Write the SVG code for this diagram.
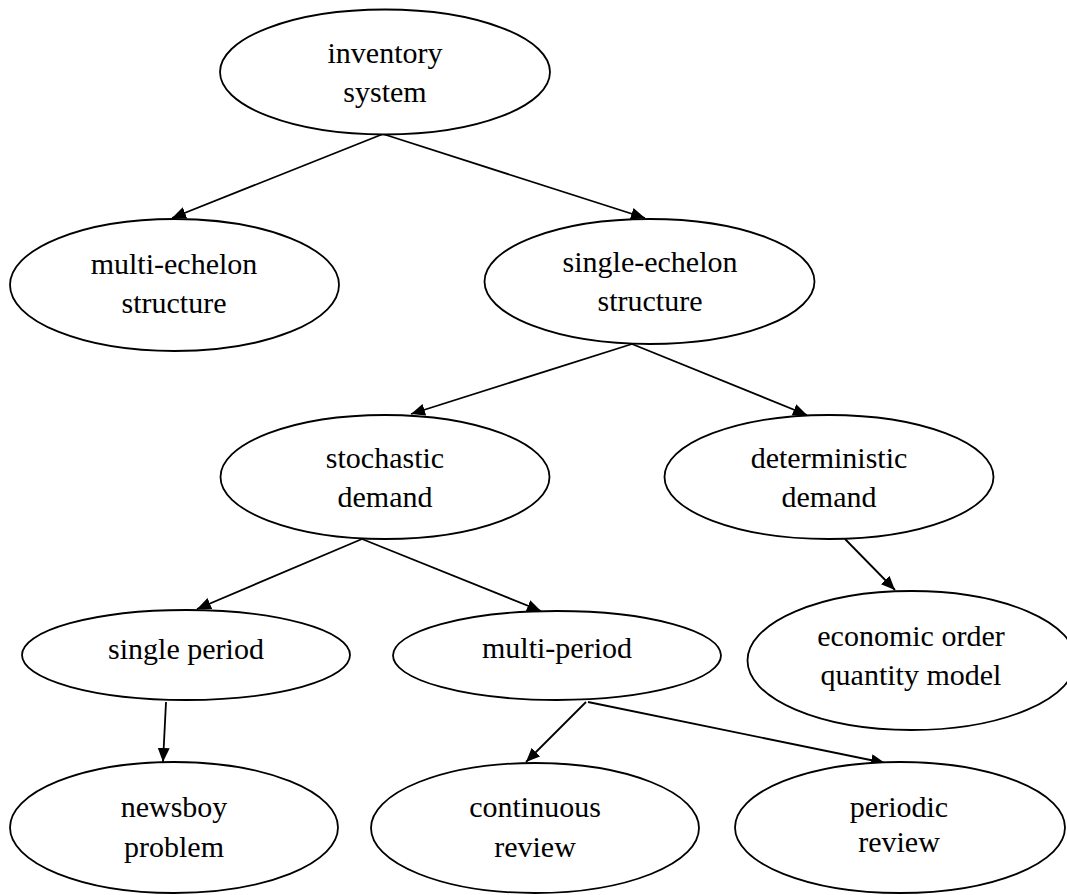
<svg xmlns="http://www.w3.org/2000/svg" width="1067" height="895" viewBox="0 0 1067 895">
  <style>
    .node ellipse { fill: #ffffff; stroke: #000000; stroke-width: 1.8; }
    .node text { font-family: "Liberation Serif", "Times New Roman", serif; font-size: 30px; fill: #000000; text-anchor: middle; }
    .edge { stroke: #000000; stroke-width: 1.8; fill: none; marker-end: url(#arrow); }
  </style>
  <defs>
    <marker id="arrow" markerUnits="userSpaceOnUse" markerWidth="15" markerHeight="13" refX="14" refY="6" orient="auto">
      <path d="M0,0 L14,6 L0,12 z" fill="#000000"/>
    </marker>
  </defs>
  <rect width="1067" height="895" fill="#ffffff"/>

  <!-- connectors -->
  <g id="edges">
    <line class="edge" x1="383" y1="134" x2="172" y2="218"/>
    <line class="edge" x1="383" y1="134" x2="645" y2="218"/>
    <line class="edge" x1="632" y1="344" x2="411" y2="414"/>
    <line class="edge" x1="632" y1="344" x2="807" y2="415"/>
    <line class="edge" x1="362" y1="539" x2="197" y2="609"/>
    <line class="edge" x1="362" y1="539" x2="541" y2="611"/>
    <line class="edge" x1="845" y1="539" x2="895" y2="590"/>
    <line class="edge" x1="166" y1="702" x2="163" y2="762"/>
    <line class="edge" x1="586" y1="702" x2="526" y2="762"/>
    <line class="edge" x1="588" y1="702" x2="885" y2="763"/>
  </g>

  <!-- nodes -->
  <g id="inventory-system" class="node">
    <ellipse cx="385" cy="72" rx="165" ry="62.5"/>
    <text x="385" y="63">inventory</text>
    <text x="385" y="102">system</text>
  </g>
  <g id="multi-echelon" class="node">
    <ellipse cx="174.5" cy="285" rx="164.5" ry="66"/>
    <text x="174" y="274">multi-echelon</text>
    <text x="174" y="313">structure</text>
  </g>
  <g id="single-echelon" class="node">
    <ellipse cx="649.5" cy="281.5" rx="165" ry="62.5"/>
    <text x="650" y="272">single-echelon</text>
    <text x="650" y="311">structure</text>
  </g>
  <g id="stochastic-demand" class="node">
    <ellipse cx="385" cy="477" rx="164.5" ry="62"/>
    <text x="385" y="468">stochastic</text>
    <text x="385" y="507">demand</text>
  </g>
  <g id="deterministic-demand" class="node">
    <ellipse cx="829" cy="477" rx="164.5" ry="62"/>
    <text x="829" y="468">deterministic</text>
    <text x="829" y="507">demand</text>
  </g>
  <g id="single-period" class="node">
    <ellipse cx="186" cy="655" rx="164" ry="45"/>
    <text x="186" y="659">single period</text>
  </g>
  <g id="multi-period" class="node">
    <ellipse cx="557" cy="655.5" rx="164" ry="44.5"/>
    <text x="557" y="658">multi-period</text>
  </g>
  <g id="eoq-model" class="node">
    <ellipse cx="911.5" cy="660.5" rx="164" ry="69.5"/>
    <text x="911" y="646">economic order</text>
    <text x="911" y="685">quantity model</text>
  </g>
  <g id="newsboy-problem" class="node">
    <ellipse cx="174" cy="827.5" rx="164" ry="65.5"/>
    <text x="174" y="817">newsboy</text>
    <text x="174" y="857">problem</text>
  </g>
  <g id="continuous-review" class="node">
    <ellipse cx="535" cy="828" rx="164" ry="65"/>
    <text x="535" y="817">continuous</text>
    <text x="535" y="857">review</text>
  </g>
  <g id="periodic-review" class="node">
    <ellipse cx="900" cy="827.5" rx="165" ry="65.5"/>
    <text x="899" y="817">periodic</text>
    <text x="899" y="852">review</text>
  </g>
</svg>
